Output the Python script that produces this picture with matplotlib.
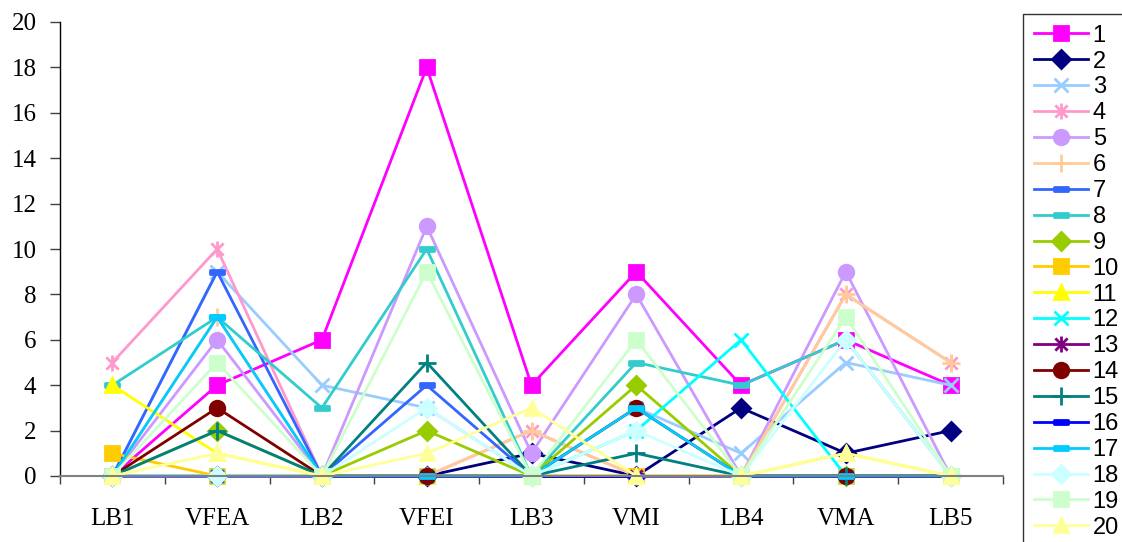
import matplotlib
matplotlib.use("Agg")
import matplotlib.pyplot as plt
from matplotlib.path import Path

# Categories along the x axis
categories = ["LB1", "VFEA", "LB2", "VFEI", "LB3", "VMI", "LB4", "VMA", "LB5"]

# One list of counts per series
s1 = [0, 4, 6, 18, 4, 9, 4, 6, 4]
s2 = [0, 0, 0, 0, 1, 0, 3, 1, 2]
s3 = [0, 9, 4, 3, 0, 3, 1, 5, 4]
s4 = [5, 10, 0, 0, 2, 0, 0, 8, 5]
s5 = [0, 6, 0, 11, 1, 8, 0, 9, 0]
s6 = [0, 7, 0, 0, 2, 0, 0, 8, 5]
s7 = [0, 9, 0, 4, 0, 0, 0, 0, 0]
s8 = [4, 7, 3, 10, 0, 5, 4, 6, 0]
s9 = [0, 2, 0, 2, 0, 4, 0, 0, 0]
s10 = [1, 0, 0, 0, 0, 0, 0, 0, 0]
s11 = [4, 1, 0, 0, 0, 0, 0, 1, 0]
s12 = [0, 0, 0, 0, 0, 2, 6, 0, 0]
s13 = [0, 0, 0, 0, 0, 0, 0, 0, 0]
s14 = [0, 3, 0, 0, 0, 3, 0, 0, 0]
s15 = [0, 2, 0, 5, 0, 1, 0, 0, 0]
s16 = [0, 0, 0, 0, 0, 0, 0, 0, 0]
s17 = [0, 7, 0, 0, 0, 3, 0, 0, 0]
s18 = [0, 0, 0, 3, 0, 2, 0, 6, 0]
s19 = [0, 5, 0, 9, 0, 6, 0, 7, 0]
s20 = [0, 1, 0, 1, 3, 0, 0, 1, 0]

series_labels = [str(i) for i in range(1, 21)]
series_values = [s1, s2, s3, s4, s5, s6, s7, s8, s9, s10,
                 s11, s12, s13, s14, s15, s16, s17, s18, s19, s20]

# Custom marker shapes: asterisk (x with a vertical stroke) and a short bar
star = Path([(-1, -1), (1, 1), (-1, 1), (1, -1), (0, -1.3), (0, 1.3)],
            [Path.MOVETO, Path.LINETO, Path.MOVETO, Path.LINETO,
             Path.MOVETO, Path.LINETO])
bar = Path([(-1, -0.32), (1, -0.32), (1, 0.32), (-1, 0.32), (-1, -0.32)],
           [Path.MOVETO, Path.LINETO, Path.LINETO, Path.LINETO, Path.CLOSEPOLY])

colors = ["#FF00FF", "#000080", "#99CCFF", "#FF99CC", "#CC99FF",
          "#FFCC99", "#3366FF", "#33CCCC", "#99CC00", "#FFCC00",
          "#FFFF00", "#00FFFF", "#800080", "#800000", "#008080",
          "#0000FF", "#00CCFF", "#CCFFFF", "#CCFFCC", "#FFFF99"]
markers = ["s", "D", "x", star, "o", "+", bar, bar, "D", "s",
           "^", "x", star, "o", "+", bar, bar, "D", "s", "^"]
sizes = {"s": 10, "D": 9.5, "x": 10.5, "o": 10.5, "+": 12.5, "^": 10.5}

fig = plt.figure(figsize=(11.22, 5.42), dpi=100)
ax = fig.add_axes([60 / 1122, 66 / 542, 943 / 1122, 454 / 542])

x = [i + 0.5 for i in range(len(categories))]
for lab, vals, col, mk in zip(series_labels, series_values, colors, markers):
    if isinstance(mk, str):
        ms = sizes[mk]
    elif mk is star:
        ms = 11.5
    else:
        ms = 10.5
    ax.plot(x, vals, color=col, lw=2.0, marker=mk, ms=ms,
            markerfacecolor=col, markeredgecolor=col, mew=2.0,
            clip_on=False, label=lab)

ax.set_xlim(0, len(categories))
ax.set_ylim(0, 20)
ax.set_yticks(range(0, 21, 2))
ax.set_xticks(range(0, len(categories) + 1))
ax.set_xticklabels([])
ax.set_xticks(x, minor=True)
ax.set_xticklabels(categories, minor=True)

for sp in ("top", "right"):
    ax.spines[sp].set_visible(False)
ax.spines["left"].set_color("black")
ax.spines["bottom"].set_color("#808080")
ax.spines["left"].set_linewidth(1.0)
ax.spines["bottom"].set_linewidth(1.5)

serif = ["Liberation Serif", "DejaVu Serif"]
ax.tick_params(axis="y", direction="out", length=7, width=1, color="#404040",
               pad=10, labelsize=18)
ax.tick_params(axis="x", which="major", direction="out", length=6, width=1,
               color="#404040")
ax.tick_params(axis="x", which="minor", length=0, pad=23, labelsize=18)
for t in ax.get_yticklabels() + ax.get_xticklabels(minor=True):
    t.set_fontfamily(serif)

leg = fig.legend(loc="upper left", bbox_to_anchor=(1023 / 1122, 1 - 14 / 542),
                 frameon=True, fancybox=False, edgecolor="black",
                 prop={"family": ["Liberation Sans", "DejaVu Sans"], "size": 17},
                 handlelength=2.3, handletextpad=0.2, labelspacing=0.165,
                 borderpad=0.45, borderaxespad=0, numpoints=1)
leg.get_frame().set_linewidth(1.0)

fig.savefig("out.png", dpi=100)
